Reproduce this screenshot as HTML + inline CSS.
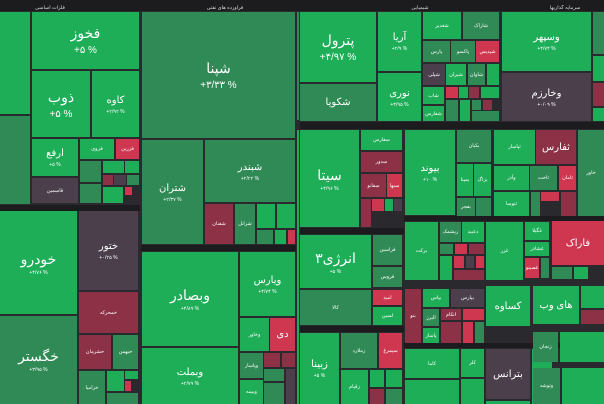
<!DOCTYPE html>
<html><head><meta charset="utf-8"><style>
body{margin:0;width:604px;height:404px;background:#2a2a2e;overflow:hidden;position:relative;font-family:"Liberation Sans","Noto Sans CJK SC",sans-serif}
div{position:absolute;box-sizing:border-box;color:#fff;text-align:center;overflow:hidden}
.g{background:#1fae58}.m{background:#2f8a55}.d{background:#4a3f4b}.r{background:#cf3750}.dr{background:#8d3147}.h{background:#1c1c1f;font-size:5px;color:#ddd;line-height:6px}
.c{display:flex;flex-direction:column;justify-content:center;align-items:center;font-size:5px;line-height:8px}
.b{font-size:14px;line-height:20px}.s{font-size:10px;line-height:15px}
</style></head><body>
<div class="h" style="left:0;top:0;width:604px;height:11px"></div>
<div class="h" style="left:30px;top:5px;width:40px">فلزات اساسی</div>
<div class="h" style="left:200px;top:5px;width:50px">فراورده های نفتی</div>
<div class="h" style="left:400px;top:5px;width:40px">شیمیایی</div>
<div class="h" style="left:540px;top:5px;width:50px">سرمایه گذاریها</div>
<!-- left strip -->
<div class="g" style="left:0;top:12px;width:30px;height:102px"></div>
<div class="m" style="left:0;top:116px;width:30px;height:88px"></div>
<div class="g c" style="left:32px;top:12px;width:107px;height:57px"><span class="b">فخوز</span><span class="s">+۵ %</span></div>
<div class="g c" style="left:32px;top:71px;width:58px;height:66px"><span class="b">ذوب</span><span class="s">+۵ %</span></div>
<div class="g c" style="left:92px;top:71px;width:47px;height:66px"><span class="s">کاوه</span><span>+۲/۹۲ %</span></div>
<div class="g c" style="left:32px;top:139px;width:46px;height:37px"><span class="s">ارفع</span><span>+۵ %</span></div>
<div class="g c" style="left:80px;top:139px;width:34px;height:20px">فروی</div>
<div class="r c" style="left:116px;top:139px;width:23px;height:20px">فزرین</div>
<div class="m" style="left:80px;top:161px;width:21px;height:21px"></div>
<div class="g" style="left:103px;top:161px;width:21px;height:12px"></div>
<div class="g" style="left:125px;top:161px;width:14px;height:12px"></div>
<div class="dr" style="left:103px;top:175px;width:10px;height:10px"></div>
<div class="d" style="left:114px;top:175px;width:12px;height:10px"></div>
<div class="m" style="left:127px;top:175px;width:12px;height:10px"></div>
<div class="m" style="left:80px;top:184px;width:21px;height:19px"></div>
<div class="g" style="left:103px;top:187px;width:20px;height:16px"></div>
<div class="r" style="left:125px;top:187px;width:7px;height:8px"></div>
<div class="d c" style="left:32px;top:178px;width:46px;height:25px">قاسمین</div>
<!-- shpna -->
<div class="m c" style="left:142px;top:12px;width:153px;height:126px"><span class="b">شپنا</span><span class="s">+۳/۳۳ %</span></div>
<div class="m c" style="left:142px;top:140px;width:61px;height:104px"><span class="s">شتران</span><span>+۲/۳۷ %</span></div>
<div class="m c" style="left:205px;top:140px;width:90px;height:62px"><span class="s">شبندر</span><span>+۲/۲۲ %</span></div>
<div class="dr c" style="left:205px;top:204px;width:28px;height:40px">شفنان</div>
<div class="m c" style="left:235px;top:204px;width:20px;height:40px">شرانل</div>
<div class="g" style="left:257px;top:204px;width:18px;height:24px"></div>
<div class="g" style="left:277px;top:204px;width:18px;height:24px"></div>
<div class="m" style="left:257px;top:230px;width:16px;height:14px"></div>
<div class="g" style="left:275px;top:230px;width:11px;height:14px"></div>
<div class="r" style="left:288px;top:230px;width:7px;height:14px"></div>
<div class="m" style="left:297px;top:12px;width:2px;height:108px"></div>
<!-- chemicals -->
<div class="g c" style="left:300px;top:12px;width:76px;height:70px"><span class="b">پترول</span><span class="s">+۴/۹۷ %</span></div>
<div class="m c" style="left:300px;top:84px;width:76px;height:37px"><span class="s">شکویا</span></div>
<div class="g c" style="left:378px;top:12px;width:43px;height:59px"><span class="s">آریا</span><span>+۲/۹ %</span></div>
<div class="g c" style="left:378px;top:73px;width:43px;height:48px"><span class="s">نوری</span><span>+۴/۹۵ %</span></div>
<div class="g c" style="left:423px;top:12px;width:38px;height:27px">شغدیر</div>
<div class="m c" style="left:463px;top:12px;width:36px;height:27px">شاراک</div>
<div class="m c" style="left:423px;top:41px;width:27px;height:21px">پارس</div>
<div class="m c" style="left:451px;top:41px;width:24px;height:21px">پاکسو</div>
<div class="r c" style="left:476px;top:41px;width:23px;height:21px">شپدیس</div>
<div class="d c" style="left:423px;top:64px;width:22px;height:21px">شپلی</div>
<div class="g c" style="left:446px;top:64px;width:20px;height:21px">شیران</div>
<div class="m c" style="left:468px;top:64px;width:17px;height:21px">شاوان</div>
<div class="g" style="left:487px;top:64px;width:12px;height:21px"></div>
<div class="g c" style="left:423px;top:87px;width:21px;height:17px">شاب</div>
<div class="g c" style="left:423px;top:106px;width:21px;height:15px">شفارس</div>
<div class="r" style="left:446px;top:87px;width:12px;height:11px"></div>
<div class="g" style="left:459px;top:87px;width:9px;height:11px"></div>
<div class="dr" style="left:469px;top:87px;width:10px;height:11px"></div>
<div class="g" style="left:481px;top:87px;width:18px;height:11px"></div>
<div class="m" style="left:446px;top:100px;width:12px;height:21px"></div>
<div class="g" style="left:460px;top:100px;width:10px;height:21px"></div>
<div class="m" style="left:472px;top:100px;width:9px;height:10px"></div>
<div class="dr" style="left:483px;top:100px;width:9px;height:10px"></div>
<div class="m" style="left:472px;top:111px;width:27px;height:10px"></div>
<div class="g c" style="left:502px;top:12px;width:89px;height:59px"><span class="s">وسپهر</span><span>+۴/۷۴ %</span></div>
<div class="d c" style="left:502px;top:73px;width:89px;height:48px"><span class="s">وخارزم</span><span>+۰/۰۹ %</span></div>
<div class="m" style="left:593px;top:12px;width:11px;height:42px"></div>
<div class="g" style="left:593px;top:56px;width:11px;height:25px"></div>
<div class="dr" style="left:593px;top:83px;width:11px;height:23px"></div>
<div class="g" style="left:593px;top:108px;width:11px;height:13px"></div>
<!-- row 2 -->
<div class="h" style="left:300px;top:122px;width:304px;height:7px"></div>
<div class="g c" style="left:300px;top:130px;width:59px;height:97px"><span class="b">سیتا</span><span>+۴/۹۶ %</span></div>
<div class="g c" style="left:361px;top:130px;width:41px;height:20px">سفارس</div>
<div class="dr c" style="left:361px;top:152px;width:41px;height:20px">سدور</div>
<div class="dr c" style="left:361px;top:174px;width:25px;height:23px">سفانو</div>
<div class="r c" style="left:387px;top:174px;width:15px;height:23px">سبها</div>
<div class="dr" style="left:361px;top:199px;width:10px;height:28px"></div>
<div class="r" style="left:372px;top:199px;width:12px;height:12px"></div>
<div class="g" style="left:385px;top:199px;width:8px;height:12px"></div>
<div class="d" style="left:394px;top:199px;width:8px;height:12px"></div>
<div class="g c" style="left:405px;top:130px;width:50px;height:85px"><span class="s">بیوند</span><span>+۱۰ %</span></div>
<div class="m c" style="left:457px;top:130px;width:34px;height:32px">بکیان</div>
<div class="g c" style="left:457px;top:164px;width:16px;height:32px">بمپنا</div>
<div class="g c" style="left:474px;top:164px;width:17px;height:32px">بزاگ</div>
<div class="m c" style="left:457px;top:198px;width:18px;height:18px">بفجر</div>
<div class="m" style="left:476px;top:198px;width:15px;height:18px"></div>
<div class="g c" style="left:494px;top:130px;width:41px;height:34px">ثپاسار</div>
<div class="dr c" style="left:536px;top:130px;width:40px;height:34px"><span class="s">ثفارس</span></div>
<div class="g c" style="left:494px;top:166px;width:35px;height:24px">وآذر</div>
<div class="m c" style="left:530px;top:166px;width:27px;height:24px">ثاخت</div>
<div class="r c" style="left:559px;top:166px;width:17px;height:24px">ثامان</div>
<div class="g c" style="left:494px;top:192px;width:35px;height:24px">ثنوسا</div>
<div class="m" style="left:531px;top:192px;width:9px;height:24px"></div>
<div class="r" style="left:541px;top:192px;width:18px;height:9px"></div>
<div class="dr" style="left:561px;top:192px;width:15px;height:24px"></div>
<div class="m c" style="left:578px;top:130px;width:26px;height:86px">خاور</div>
<!-- row 3 mid -->
<div class="h" style="left:300px;top:228px;width:104px;height:6px"></div>
<div class="g c" style="left:300px;top:235px;width:71px;height:53px"><span class="b">انرژی۳</span><span>+۵ %</span></div>
<div class="m c" style="left:373px;top:235px;width:29px;height:30px">فراسین</div>
<div class="m c" style="left:373px;top:267px;width:29px;height:20px">فروس</div>
<div class="m c" style="left:300px;top:290px;width:71px;height:35px">کالا</div>
<div class="r c" style="left:373px;top:290px;width:29px;height:15px">امید</div>
<div class="g c" style="left:373px;top:307px;width:29px;height:18px">لسین</div>
<div class="h" style="left:300px;top:326px;width:104px;height:6px"></div>
<div class="g c" style="left:300px;top:333px;width:39px;height:71px"><span class="s">زبینا</span><span>+۵ %</span></div>
<div class="m c" style="left:341px;top:333px;width:36px;height:35px">زملارد</div>
<div class="r c" style="left:379px;top:333px;width:23px;height:35px">سیمرغ</div>
<div class="g c" style="left:341px;top:370px;width:27px;height:34px">زقیام</div>
<div class="g" style="left:370px;top:370px;width:14px;height:17px"></div>
<div class="g" style="left:386px;top:370px;width:16px;height:17px"></div>
<div class="dr" style="left:370px;top:389px;width:14px;height:15px"></div>
<div class="m" style="left:386px;top:389px;width:16px;height:15px"></div>
<div class="h" style="left:404px;top:216px;width:200px;height:5px"></div>
<div class="g c" style="left:405px;top:222px;width:33px;height:58px">برکت</div>
<div class="m c" style="left:440px;top:222px;width:21px;height:20px">ریشمک</div>
<div class="g c" style="left:462px;top:222px;width:22px;height:20px">دعبید</div>
<div class="m" style="left:440px;top:244px;width:13px;height:10px"></div>
<div class="r" style="left:455px;top:244px;width:12px;height:10px"></div>
<div class="dr" style="left:469px;top:244px;width:15px;height:10px"></div>
<div class="g" style="left:440px;top:256px;width:12px;height:24px"></div>
<div class="r" style="left:454px;top:256px;width:10px;height:12px"></div>
<div class="d" style="left:466px;top:256px;width:8px;height:12px"></div>
<div class="r" style="left:476px;top:256px;width:8px;height:12px"></div>
<div class="dr" style="left:454px;top:270px;width:30px;height:10px"></div>
<div class="dr c" style="left:405px;top:289px;width:16px;height:54px">بنو</div>
<div class="g c" style="left:423px;top:289px;width:26px;height:18px">بپاس</div>
<div class="d c" style="left:451px;top:289px;width:33px;height:18px">بپارس</div>
<div class="m c" style="left:423px;top:309px;width:16px;height:17px">البرز</div>
<div class="dr c" style="left:441px;top:309px;width:20px;height:11px">اتکام</div>
<div class="r" style="left:463px;top:309px;width:21px;height:11px"></div>
<div class="g c" style="left:423px;top:328px;width:16px;height:15px">پاسار</div>
<div class="dr" style="left:441px;top:322px;width:20px;height:21px"></div>
<div class="r" style="left:463px;top:322px;width:10px;height:21px"></div>
<div class="m" style="left:475px;top:322px;width:9px;height:21px"></div>
<div class="h" style="left:404px;top:343px;width:200px;height:5px"></div>
<div class="g c" style="left:405px;top:349px;width:54px;height:29px">کاما</div>
<div class="g" style="left:405px;top:380px;width:54px;height:24px"></div>
<div class="g c" style="left:461px;top:349px;width:23px;height:28px">کلر</div>
<div class="g" style="left:461px;top:379px;width:23px;height:25px"></div>
<div class="g c" style="left:486px;top:222px;width:37px;height:58px">غزر</div>
<div class="g c" style="left:525px;top:222px;width:24px;height:18px">غگیلا</div>
<div class="g c" style="left:525px;top:242px;width:24px;height:14px">غشاذر</div>
<div class="r c" style="left:525px;top:258px;width:14px;height:20px">غصینو</div>
<div class="m" style="left:541px;top:258px;width:8px;height:20px"></div>
<div class="g c" style="left:486px;top:286px;width:44px;height:40px"><span class="s">کساوه</span></div>
<div class="d c" style="left:486px;top:349px;width:44px;height:50px"><span class="s">بترانس</span></div>
<div class="g" style="left:532px;top:349px;width:20px;height:55px"></div>
<div class="g" style="left:486px;top:401px;width:44px;height:3px"></div>
<div class="r c" style="left:552px;top:221px;width:52px;height:44px"><span class="s">فاراک</span></div>
<div class="m" style="left:552px;top:267px;width:20px;height:12px"></div>
<div class="g" style="left:574px;top:267px;width:14px;height:12px"></div>
<div class="g c" style="left:533px;top:286px;width:46px;height:38px"><span class="s">های وب</span></div>
<div class="g" style="left:581px;top:286px;width:23px;height:22px"></div>
<div class="dr" style="left:581px;top:310px;width:23px;height:14px"></div>
<div class="m c" style="left:533px;top:332px;width:25px;height:30px">زنجان</div>
<div class="g" style="left:560px;top:332px;width:44px;height:30px"></div>
<div class="m c" style="left:533px;top:368px;width:27px;height:36px">وتوشه</div>
<div class="g" style="left:562px;top:368px;width:42px;height:36px"></div>
<!-- bottom left -->
<div class="h" style="left:0;top:205px;width:140px;height:6px"></div>
<div class="g c" style="left:0;top:211px;width:77px;height:103px"><span class="b">خودرو</span><span>+۴/۷۶ %</span></div>
<div class="m c" style="left:0;top:316px;width:77px;height:88px"><span class="b">خگستر</span><span>+۳/۹۵ %</span></div>
<div class="d c" style="left:79px;top:211px;width:59px;height:79px"><span class="s">ختور</span><span>+۰/۲۵ %</span></div>
<div class="dr c" style="left:79px;top:292px;width:59px;height:41px">خمحرکه</div>
<div class="dr c" style="left:79px;top:335px;width:32px;height:34px">خشرمان</div>
<div class="m c" style="left:113px;top:335px;width:25px;height:34px">خبهمن</div>
<div class="m c" style="left:79px;top:371px;width:26px;height:33px">خزامیا</div>
<div class="g" style="left:107px;top:371px;width:17px;height:20px"></div>
<div class="g" style="left:125px;top:371px;width:13px;height:8px"></div>
<div class="r" style="left:125px;top:381px;width:6px;height:10px"></div>
<div class="m" style="left:107px;top:393px;width:31px;height:11px"></div>
<div class="h" style="left:141px;top:245px;width:155px;height:6px"></div>
<div class="g c" style="left:142px;top:252px;width:96px;height:94px"><span class="b">وبصادر</span><span>+۴/۸۹ %</span></div>
<div class="g c" style="left:142px;top:348px;width:96px;height:56px"><span class="s">وبملت</span><span>+۲/۷۹ %</span></div>
<div class="g c" style="left:240px;top:252px;width:55px;height:64px"><span class="s">ویارس</span><span>+۴/۷۴ %</span></div>
<div class="g c" style="left:240px;top:318px;width:29px;height:33px">وخاور</div>
<div class="r c" style="left:270px;top:318px;width:25px;height:33px"><span class="s">دی</span></div>
<div class="m c" style="left:240px;top:353px;width:23px;height:25px">وپاسار</div>
<div class="dr" style="left:264px;top:353px;width:16px;height:14px"></div>
<div class="dr" style="left:282px;top:353px;width:13px;height:14px"></div>
<div class="m" style="left:264px;top:369px;width:20px;height:12px"></div>
<div class="g c" style="left:240px;top:380px;width:23px;height:24px">وبیمه</div>
<div class="m" style="left:264px;top:383px;width:20px;height:21px"></div>
<div class="d" style="left:286px;top:369px;width:9px;height:35px"></div>
<div class="g" style="left:297px;top:130px;width:2px;height:274px"></div>
</body></html>
